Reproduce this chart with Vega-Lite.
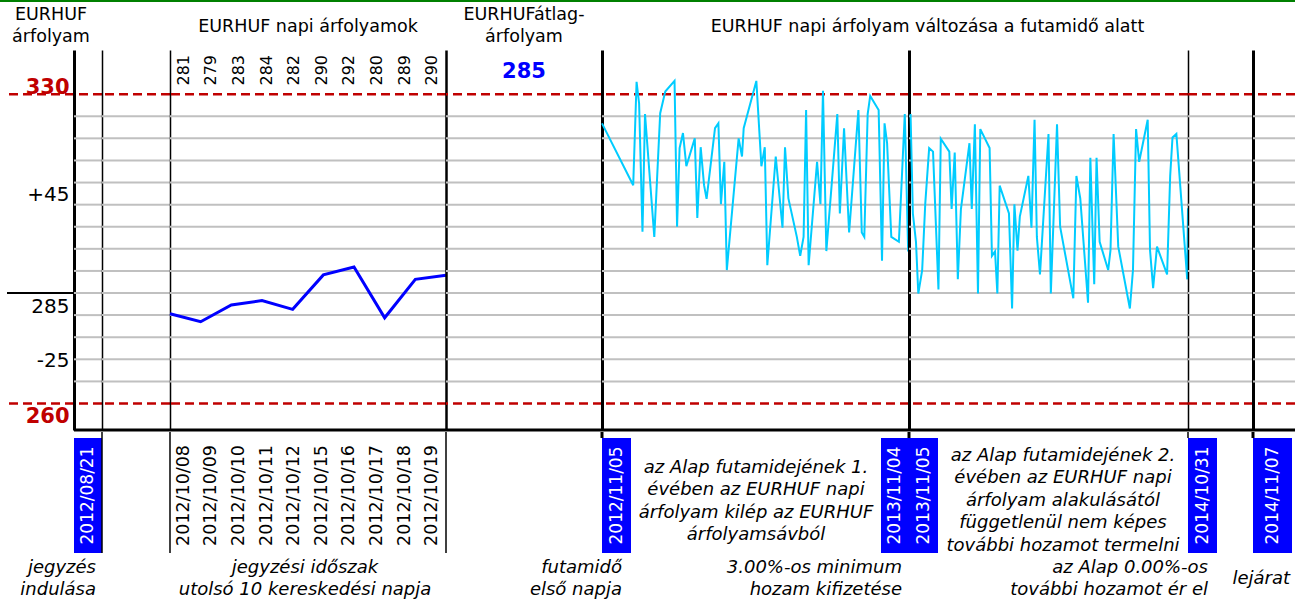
{
"$schema": "https://vega.github.io/schema/vega-lite/v6.json",
"padding": 0,
"spacing": 0,
"config": {
  "view": {"stroke": null},
  "font": "DejaVu Sans",
  "axisY": {"domain": false, "ticks": false, "labels": false, "grid": false, "domainColor": "black", "zindex": 1}
},
"datasets": {
  "grid": [{"v":265},{"v":270},{"v":275},{"v":280},{"v":285},{"v":290},{"v":295},{"v":300},{"v":305},{"v":310},{"v":315},{"v":320},{"v":325}],
  "limits": [{"v":330},{"v":260}],
  "daily": [
    {"date":"2012/10/08","arf":280.3,"felirat":"281"},
    {"date":"2012/10/09","arf":278.5,"felirat":"279"},
    {"date":"2012/10/10","arf":282.3,"felirat":"283"},
    {"date":"2012/10/11","arf":283.3,"felirat":"284"},
    {"date":"2012/10/12","arf":281.3,"felirat":"282"},
    {"date":"2012/10/15","arf":289.1,"felirat":"290"},
    {"date":"2012/10/16","arf":290.9,"felirat":"292"},
    {"date":"2012/10/17","arf":279.4,"felirat":"280"},
    {"date":"2012/10/18","arf":288.1,"felirat":"289"},
    {"date":"2012/10/19","arf":289.0,"felirat":"290"}
  ],
  "path1": [
    {"nap":0,"arf":323.4},{"nap":37,"arf":309.4},{"nap":41,"arf":332.8},{"nap":44,"arf":327.9},{"nap":48,"arf":298.9},
    {"nap":51,"arf":325.5},{"nap":62,"arf":297.7},{"nap":69,"arf":325.7},{"nap":75,"arf":330.6},{"nap":86,"arf":333.0},
    {"nap":89,"arf":300.0},{"nap":92,"arf":317.8},{"nap":96,"arf":321.2},{"nap":100,"arf":313.7},{"nap":110,"arf":320.0},
    {"nap":113,"arf":302.0},{"nap":117,"arf":318.0},{"nap":121,"arf":309.4},{"nap":124,"arf":306.3},{"nap":134,"arf":322.3},
    {"nap":138,"arf":323.4},{"nap":141,"arf":305.1},{"nap":145,"arf":314.7},{"nap":148,"arf":290.2},{"nap":162,"arf":320.0},
    {"nap":166,"arf":315.9},{"nap":168,"arf":322.3},{"nap":183,"arf":333.0},{"nap":189,"arf":313.7},{"nap":193,"arf":318.0},
    {"nap":196,"arf":291.3},{"nap":206,"arf":315.9},{"nap":214,"arf":299.8},{"nap":217,"arf":318.0},{"nap":221,"arf":306.4},
    {"nap":231,"arf":297.7},{"nap":235,"arf":293.4},{"nap":239,"arf":297.7},{"nap":242,"arf":326.4},{"nap":245,"arf":291.3},
    {"nap":255,"arf":314.7},{"nap":259,"arf":305.1},{"nap":262,"arf":330.8},{"nap":266,"arf":294.5},{"nap":279,"arf":325.5},
    {"nap":282,"arf":303.0},{"nap":287,"arf":322.3},{"nap":293,"arf":298.7},{"nap":304,"arf":326.4},{"nap":308,"arf":298.7},
    {"nap":311,"arf":297.7},{"nap":315,"arf":325.5},{"nap":318,"arf":329.6},{"nap":328,"arf":326.4},{"nap":332,"arf":292.3},
    {"nap":335,"arf":323.4},{"nap":338,"arf":319.0},{"nap":343,"arf":297.7},{"nap":352,"arf":296.6},{"nap":359,"arf":325.5},
    {"nap":363,"arf":294.4}
  ],
  "path2": [
    {"nap":367,"arf":325.5},{"nap":370,"arf":303.0},{"nap":374,"arf":296.6},{"nap":377,"arf":284.9},{"nap":382,"arf":290.2},
    {"nap":386,"arf":305.3},{"nap":391,"arf":317.8},{"nap":396,"arf":317.0},{"nap":403,"arf":285.8},{"nap":406,"arf":319.9},
    {"nap":417,"arf":317.0},{"nap":420,"arf":304.0},{"nap":424,"arf":316.8},{"nap":428,"arf":288.1},{"nap":432,"arf":304.0},
    {"nap":443,"arf":318.9},{"nap":446,"arf":304.0},{"nap":450,"arf":323.2},{"nap":454,"arf":284.9},{"nap":457,"arf":322.1},
    {"nap":469,"arf":317.8},{"nap":472,"arf":293.4},{"nap":476,"arf":294.4},{"nap":479,"arf":284.9},{"nap":482,"arf":309.3},
    {"nap":494,"arf":303.0},{"nap":498,"arf":281.5},{"nap":501,"arf":305.1},{"nap":505,"arf":294.6},{"nap":508,"arf":302.3},
    {"nap":519,"arf":311.5},{"nap":523,"arf":299.8},{"nap":527,"arf":324.2},{"nap":530,"arf":297.7},{"nap":534,"arf":289.2},
    {"nap":545,"arf":321.0},{"nap":548,"arf":284.9},{"nap":556,"arf":323.2},{"nap":560,"arf":300.0},{"nap":577,"arf":283.8},
    {"nap":581,"arf":311.5},{"nap":586,"arf":306.4},{"nap":596,"arf":282.8},{"nap":599,"arf":315.6},{"nap":604,"arf":287.0},
    {"nap":607,"arf":315.6},{"nap":611,"arf":296.6},{"nap":622,"arf":290.2},{"nap":625,"arf":294.7},{"nap":629,"arf":321.0},
    {"nap":635,"arf":295.5},{"nap":650,"arf":281.5},{"nap":654,"arf":290.2},{"nap":658,"arf":322.1},{"nap":662,"arf":314.7},
    {"nap":673,"arf":324.2},{"nap":676,"arf":294.7},{"nap":680,"arf":286.1},{"nap":685,"arf":295.5},{"nap":698,"arf":289.2},
    {"nap":702,"arf":311.5},{"nap":705,"arf":320.2},{"nap":710,"arf":321.0},{"nap":724,"arf":288.1},{"nap":725,"arf":304.2}
  ]
},
"vconcat": [
  {"width": 1295, "height": 2, "data": {"values": [{}]}, "mark": {"type": "rect", "color": "#008000"}, "encoding": {}},
  {"hconcat": [
    {"width": 102, "height": 48, "data": {"values": [{"t": "EURHUF\nárfolyam"}]}, "mark": {"type": "text", "lineBreak": "\n", "fontSize": 17.5, "lineHeight": 22, "dy": -11}, "encoding": {"text": {"field": "t"}}},
    {"width": 68, "height": 48, "data": {"values": []}, "mark": "text", "encoding": {}},
    {"width": 276, "height": 48, "data": {"values": [{"t": "EURHUF napi árfolyamok"}]}, "mark": {"type": "text", "fontSize": 17.5, "dy": 1}, "encoding": {"text": {"field": "t"}}},
    {"width": 156, "height": 48, "data": {"values": [{"t": "EURHUFátlag-\nárfolyam"}]}, "mark": {"type": "text", "lineBreak": "\n", "fontSize": 17.5, "lineHeight": 22, "dy": -11}, "encoding": {"text": {"field": "t"}}},
    {"width": 651, "height": 48, "data": {"values": [{"t": "EURHUF napi árfolyam változása a futamidő alatt"}]}, "mark": {"type": "text", "fontSize": 17.5, "dy": 1}, "encoding": {"text": {"field": "t"}}},
    {"width": 42, "height": 48, "data": {"values": []}, "mark": "text", "encoding": {}}
  ], "spacing": 0, "bounds": "flush"},
  {"hconcat": [
    {"width": 7, "height": 380, "data": {"values": []}, "mark": "text", "encoding": {}},
    {"width": 67, "height": 380, "layer": [
      {"data": {"name": "limits"}, "mark": {"type": "rule", "color": "#c00000", "strokeWidth": 2.5, "strokeDash": [9, 5]}, "encoding": {"y": {"field": "v", "type": "quantitative", "title": null, "scale": {"domain": [254, 340], "nice": false, "zero": false}, "axis": null}}},
      {"data": {"values": [{"v": 285}]}, "mark": {"type": "rule", "color": "black", "strokeWidth": 2}, "encoding": {"y": {"field": "v", "type": "quantitative", "title": null, "axis": null}}}
    ]},
    {"width": 28, "height": 380, "layer": [
      {"data": {"name": "grid"}, "mark": {"type": "rule", "color": "#c0c0c0", "strokeWidth": 2}, "encoding": {"y": {"field": "v", "type": "quantitative", "title": null, "scale": {"domain": [254, 340], "nice": false, "zero": false},
        "axis": {"domain": true, "domainWidth": 3, "labels": true, "values": [330, 307.3, 285, 269.8, 260],
          "labelExpr": "datum.value > 300 && datum.value < 320 ? '+45' : (datum.value > 262 && datum.value < 280 ? '-25' : datum.label)",
          "labelFontSize": {"condition": {"test": "datum.value == 330 || datum.value == 260", "value": 21}, "value": 20},
          "labelColor": {"condition": {"test": "datum.value == 330 || datum.value == 260", "value": "#c00000"}, "value": "black"},
          "labelFontWeight": {"condition": {"test": "datum.value == 330 || datum.value == 260", "value": "bold"}, "value": "normal"},
          "labelBaseline": {"condition": {"test": "datum.value == 330 || datum.value == 260 || datum.value == 285", "value": "alphabetic"}, "value": "middle"},
          "labelOffset": {"condition": [{"test": "datum.value == 330", "value": -1}, {"test": "datum.value == 285", "value": 19}, {"test": "datum.value == 260", "value": 19}], "value": 0},
          "labelPadding": 5, "labelOverlap": false, "labelBound": false, "labelFlush": false}}}},
      {"data": {"name": "limits"}, "mark": {"type": "rule", "color": "#c00000", "strokeWidth": 2.5, "strokeDash": [9, 5]}, "encoding": {"y": {"field": "v", "type": "quantitative", "title": null}}},
      {"data": {"values": [{}]}, "mark": {"type": "rule", "color": "black", "strokeWidth": 3}, "encoding": {"y": {"datum": 254, "type": "quantitative", "title": null}}}
    ]},
    {"width": 68, "height": 380, "layer": [
      {"data": {"name": "grid"}, "mark": {"type": "rule", "color": "#c0c0c0", "strokeWidth": 2}, "encoding": {"y": {"field": "v", "type": "quantitative", "title": null, "scale": {"domain": [254, 340], "nice": false, "zero": false}, "axis": {"domain": true, "domainWidth": 1.5}}}},
      {"data": {"name": "limits"}, "mark": {"type": "rule", "color": "#c00000", "strokeWidth": 2.5, "strokeDash": [9, 5]}, "encoding": {"y": {"field": "v", "type": "quantitative", "title": null}}},
      {"data": {"values": [{}]}, "mark": {"type": "rule", "color": "black", "strokeWidth": 3}, "encoding": {"y": {"datum": 254, "type": "quantitative", "title": null}}}
    ]},
    {"width": 276, "height": 380, "resolve": {"scale": {"x": "independent"}}, "layer": [
      {"data": {"name": "grid"}, "mark": {"type": "rule", "color": "#c0c0c0", "strokeWidth": 2}, "encoding": {"y": {"field": "v", "type": "quantitative", "title": null, "scale": {"domain": [254, 340], "nice": false, "zero": false}, "axis": {"domain": true, "domainWidth": 1.5}}}},
      {"data": {"name": "limits"}, "mark": {"type": "rule", "color": "#c00000", "strokeWidth": 2.5, "strokeDash": [9, 5]}, "encoding": {"y": {"field": "v", "type": "quantitative", "title": null}}},
      {"data": {"name": "daily"}, "mark": {"type": "line", "color": "#0000ff", "strokeWidth": 3}, "encoding": {"x": {"field": "date", "type": "ordinal", "scale": {"type": "point", "padding": 0}, "axis": null}, "y": {"field": "arf", "type": "quantitative", "title": null}}},
      {"data": {"name": "daily"}, "mark": {"type": "text", "angle": 270, "align": "right", "baseline": "middle", "dx": -5, "fontSize": 16, "color": "black"}, "encoding": {"x": {"field": "date", "type": "ordinal", "scale": {"type": "band", "paddingInner": 0, "paddingOuter": 0}, "axis": null}, "y": {"datum": 340, "type": "quantitative", "title": null}, "text": {"field": "felirat"}}},
      {"data": {"values": [{}]}, "mark": {"type": "rule", "color": "black", "strokeWidth": 3}, "encoding": {"y": {"datum": 254, "type": "quantitative", "title": null}}}
    ]},
    {"width": 156, "height": 380, "layer": [
      {"data": {"name": "grid"}, "mark": {"type": "rule", "color": "#c0c0c0", "strokeWidth": 2}, "encoding": {"y": {"field": "v", "type": "quantitative", "title": null, "scale": {"domain": [254, 340], "nice": false, "zero": false}, "axis": {"domain": true, "domainWidth": 2.5}}}},
      {"data": {"name": "limits"}, "mark": {"type": "rule", "color": "#c00000", "strokeWidth": 2.5, "strokeDash": [9, 5]}, "encoding": {"y": {"field": "v", "type": "quantitative", "title": null}}},
      {"data": {"values": [{"atlag": 285}]}, "mark": {"type": "text", "fontSize": 21, "fontWeight": "bold", "color": "#0000ff"}, "encoding": {"y": {"datum": 335, "type": "quantitative", "title": null}, "text": {"field": "atlag"}}},
      {"data": {"values": [{}]}, "mark": {"type": "rule", "color": "black", "strokeWidth": 3}, "encoding": {"y": {"datum": 254, "type": "quantitative", "title": null}}}
    ]},
    {"width": 307, "height": 380, "layer": [
      {"data": {"name": "grid"}, "mark": {"type": "rule", "color": "#c0c0c0", "strokeWidth": 2}, "encoding": {"y": {"field": "v", "type": "quantitative", "title": null, "scale": {"domain": [254, 340], "nice": false, "zero": false}, "axis": {"domain": true, "domainWidth": 3}}}},
      {"data": {"name": "limits"}, "mark": {"type": "rule", "color": "#c00000", "strokeWidth": 2.5, "strokeDash": [9, 5]}, "encoding": {"y": {"field": "v", "type": "quantitative", "title": null}}},
      {"data": {"name": "path1"}, "mark": {"type": "line", "color": "#00ccff", "strokeWidth": 2}, "encoding": {"x": {"field": "nap", "type": "quantitative", "scale": {"domain": [0, 364], "nice": false, "zero": false}, "axis": null}, "y": {"field": "arf", "type": "quantitative", "title": null}}},
      {"data": {"values": [{}]}, "mark": {"type": "rule", "color": "black", "strokeWidth": 3}, "encoding": {"y": {"datum": 254, "type": "quantitative", "title": null}}}
    ]},
    {"width": 279, "height": 380, "layer": [
      {"data": {"name": "grid"}, "mark": {"type": "rule", "color": "#c0c0c0", "strokeWidth": 2}, "encoding": {"y": {"field": "v", "type": "quantitative", "title": null, "scale": {"domain": [254, 340], "nice": false, "zero": false}, "axis": {"domain": true, "domainWidth": 3}}}},
      {"data": {"name": "limits"}, "mark": {"type": "rule", "color": "#c00000", "strokeWidth": 2.5, "strokeDash": [9, 5]}, "encoding": {"y": {"field": "v", "type": "quantitative", "title": null}}},
      {"data": {"name": "path2"}, "mark": {"type": "line", "color": "#00ccff", "strokeWidth": 2}, "encoding": {"x": {"field": "nap", "type": "quantitative", "scale": {"domain": [365, 725], "nice": false, "zero": false}, "axis": null}, "y": {"field": "arf", "type": "quantitative", "title": null}}},
      {"data": {"values": [{}]}, "mark": {"type": "rule", "color": "black", "strokeWidth": 3}, "encoding": {"y": {"datum": 254, "type": "quantitative", "title": null}}}
    ]},
    {"width": 65, "height": 380, "layer": [
      {"data": {"name": "grid"}, "mark": {"type": "rule", "color": "#c0c0c0", "strokeWidth": 2}, "encoding": {"y": {"field": "v", "type": "quantitative", "title": null, "scale": {"domain": [254, 340], "nice": false, "zero": false}, "axis": {"domain": true, "domainWidth": 1.5}}}},
      {"data": {"name": "limits"}, "mark": {"type": "rule", "color": "#c00000", "strokeWidth": 2.5, "strokeDash": [9, 5]}, "encoding": {"y": {"field": "v", "type": "quantitative", "title": null}}},
      {"data": {"values": [{}]}, "mark": {"type": "rule", "color": "black", "strokeWidth": 3}, "encoding": {"y": {"datum": 254, "type": "quantitative", "title": null}}}
    ]},
    {"width": 42, "height": 380, "layer": [
      {"data": {"name": "grid"}, "mark": {"type": "rule", "color": "#c0c0c0", "strokeWidth": 2}, "encoding": {"y": {"field": "v", "type": "quantitative", "title": null, "scale": {"domain": [254, 340], "nice": false, "zero": false}, "axis": {"domain": true, "domainWidth": 3}}}},
      {"data": {"name": "limits"}, "mark": {"type": "rule", "color": "#c00000", "strokeWidth": 2.5, "strokeDash": [9, 5]}, "encoding": {"y": {"field": "v", "type": "quantitative", "title": null}}},
      {"data": {"values": [{}]}, "mark": {"type": "rule", "color": "black", "strokeWidth": 3}, "encoding": {"y": {"datum": 254, "type": "quantitative", "title": null}}}
    ]}
  ], "spacing": 0, "bounds": "flush"},
  {"hconcat": [
    {"width": 102, "height": 6, "data": {"values": []}, "mark": "text", "encoding": {}},
    {"width": 68, "height": 6, "data": {"values": [{}]}, "layer": [
      {"mark": {"type": "tick", "color": "black", "thickness": 1.5, "size": 6, "opacity": 1}, "encoding": {"x": {"datum": 0, "type": "quantitative", "scale": {"domain": [0, 1]}, "axis": null}}},
      {"mark": {"type": "tick", "color": "black", "thickness": 1.5, "size": 6, "opacity": 1}, "encoding": {"x": {"datum": 1, "type": "quantitative", "axis": null}}}
    ]},
    {"width": 276, "height": 6, "data": {"values": [{}]}, "mark": {"type": "tick", "color": "black", "thickness": 1.5, "size": 6, "opacity": 1}, "encoding": {"x": {"datum": 1, "type": "quantitative", "scale": {"domain": [0, 1]}, "axis": null}}},
    {"width": 156, "height": 6, "data": {"values": [{}]}, "mark": {"type": "tick", "color": "black", "thickness": 3, "size": 6, "opacity": 1}, "encoding": {"x": {"datum": 1, "type": "quantitative", "scale": {"domain": [0, 1]}, "axis": null}}},
    {"width": 307, "height": 6, "data": {"values": [{}]}, "mark": {"type": "tick", "color": "black", "thickness": 3, "size": 6, "opacity": 1}, "encoding": {"x": {"datum": 1, "type": "quantitative", "scale": {"domain": [0, 1]}, "axis": null}}},
    {"width": 279, "height": 6, "data": {"values": [{}]}, "mark": {"type": "tick", "color": "black", "thickness": 1.5, "size": 6, "opacity": 1}, "encoding": {"x": {"datum": 1, "type": "quantitative", "scale": {"domain": [0, 1]}, "axis": null}}},
    {"width": 65, "height": 6, "data": {"values": [{}]}, "mark": {"type": "tick", "color": "black", "thickness": 3, "size": 6, "opacity": 1}, "encoding": {"x": {"datum": 1, "type": "quantitative", "scale": {"domain": [0, 1]}, "axis": null}}},
    {"width": 42, "height": 6, "data": {"values": []}, "mark": "text", "encoding": {}}
  ], "spacing": 0, "bounds": "flush"},
  {"hconcat": [
    {"width": 74, "height": 115, "data": {"values": []}, "mark": "text", "encoding": {}},
    {"width": 28, "height": 115, "data": {"values": [{"d": "2012/08/21"}]}, "layer": [
      {"mark": {"type": "rect", "color": "#0000ff"}, "encoding": {}},
      {"mark": {"type": "text", "angle": 270, "color": "white", "fontSize": 17}, "encoding": {"text": {"field": "d"}}}
    ]},
    {"width": 68, "height": 115, "data": {"values": [{}]}, "layer": [
      {"mark": {"type": "tick", "color": "black", "thickness": 1.5, "size": 115, "opacity": 1}, "encoding": {"x": {"datum": 0, "type": "quantitative", "scale": {"domain": [0, 1]}, "axis": null}}},
      {"mark": {"type": "tick", "color": "black", "thickness": 1.5, "size": 115, "opacity": 1}, "encoding": {"x": {"datum": 1, "type": "quantitative", "axis": null}}}
    ]},
    {"width": 276, "height": 115, "data": {"name": "daily"}, "mark": {"type": "text", "angle": 270, "fontSize": 17.5, "color": "black"}, "encoding": {"x": {"field": "date", "type": "ordinal", "scale": {"type": "band", "paddingInner": 0, "paddingOuter": 0}, "axis": null}, "text": {"field": "date"}}},
    {"width": 156, "height": 115, "data": {"values": [{}]}, "mark": {"type": "tick", "color": "black", "thickness": 1.5, "size": 115, "opacity": 1}, "encoding": {"x": {"datum": 0, "type": "quantitative", "scale": {"domain": [0, 1]}, "axis": null}}},
    {"width": 29, "height": 115, "data": {"values": [{"d": "2012/11/05"}]}, "layer": [
      {"mark": {"type": "rect", "color": "#0000ff"}, "encoding": {}},
      {"mark": {"type": "text", "angle": 270, "color": "white", "fontSize": 17}, "encoding": {"text": {"field": "d"}}}
    ]},
    {"width": 250, "height": 115, "data": {"values": [{"t": "az Alap futamidejének 1.\névében az EURHUF napi\nárfolyam kilép az EURHUF\nárfolyamsávból"}]}, "mark": {"type": "text", "lineBreak": "\n", "fontSize": 18, "fontStyle": "italic", "lineHeight": 22.5, "dy": -28}, "encoding": {"text": {"field": "t"}}},
    {"width": 57, "height": 115, "data": {"values": [{"d": "2013/11/04"}, {"d": "2013/11/05"}]}, "layer": [
      {"mark": {"type": "rect", "color": "#0000ff"}, "encoding": {}},
      {"mark": {"type": "text", "angle": 270, "color": "white", "fontSize": 17}, "encoding": {"x": {"field": "d", "type": "ordinal", "scale": {"type": "band", "paddingInner": 0, "paddingOuter": 0}, "axis": null}, "text": {"field": "d"}}}
    ]},
    {"width": 250, "height": 115, "data": {"values": [{"t": "az Alap futamidejének 2.\névében az EURHUF napi\nárfolyam alakulásától\nfüggetlenül nem képes\ntovábbi hozamot termelni"}]}, "mark": {"type": "text", "lineBreak": "\n", "fontSize": 18, "fontStyle": "italic", "lineHeight": 22.5, "dy": -40}, "encoding": {"text": {"field": "t"}}},
    {"width": 29, "height": 115, "data": {"values": [{"d": "2014/10/31"}]}, "layer": [
      {"mark": {"type": "rect", "color": "#0000ff"}, "encoding": {}},
      {"mark": {"type": "text", "angle": 270, "color": "white", "fontSize": 17}, "encoding": {"text": {"field": "d"}}}
    ]},
    {"width": 36, "height": 115, "data": {"values": []}, "mark": "text", "encoding": {}},
    {"width": 39, "height": 115, "data": {"values": [{"d": "2014/11/07"}]}, "layer": [
      {"mark": {"type": "rect", "color": "#0000ff"}, "encoding": {}},
      {"mark": {"type": "text", "angle": 270, "color": "white", "fontSize": 17}, "encoding": {"text": {"field": "d"}}}
    ]}
  ], "spacing": 0, "bounds": "flush"},
  {"hconcat": [
    {"width": 96, "height": 47, "data": {"values": [{"t": "jegyzés\nindulása"}]}, "mark": {"type": "text", "lineBreak": "\n", "fontSize": 18, "fontStyle": "italic", "lineHeight": 22, "align": "right", "dy": -11}, "encoding": {"x": {"value": "width"}, "text": {"field": "t"}}},
    {"width": 68, "height": 47, "data": {"values": []}, "mark": "text", "encoding": {}},
    {"width": 282, "height": 47, "data": {"values": [{"t": "jegyzési időszak\nutolsó 10 kereskedési napja"}]}, "mark": {"type": "text", "lineBreak": "\n", "fontSize": 18, "fontStyle": "italic", "lineHeight": 22, "dy": -11}, "encoding": {"text": {"field": "t"}}},
    {"width": 176, "height": 47, "data": {"values": [{"t": "futamidő\nelső napja"}]}, "mark": {"type": "text", "lineBreak": "\n", "fontSize": 18, "fontStyle": "italic", "lineHeight": 22, "align": "right", "dy": -11}, "encoding": {"x": {"value": "width"}, "text": {"field": "t"}}},
    {"width": 280, "height": 47, "data": {"values": [{"t": "3.00%-os minimum\nhozam kifizetése"}]}, "mark": {"type": "text", "lineBreak": "\n", "fontSize": 18, "fontStyle": "italic", "lineHeight": 22, "align": "right", "dy": -11}, "encoding": {"x": {"value": "width"}, "text": {"field": "t"}}},
    {"width": 306, "height": 47, "data": {"values": [{"t": "az Alap 0.00%-os\ntovábbi hozamot ér el"}]}, "mark": {"type": "text", "lineBreak": "\n", "fontSize": 18, "fontStyle": "italic", "lineHeight": 22, "align": "right", "dy": -11}, "encoding": {"x": {"value": "width"}, "text": {"field": "t"}}},
    {"width": 82, "height": 47, "data": {"values": [{"t": "lejárat"}]}, "mark": {"type": "text", "fontSize": 18, "fontStyle": "italic", "align": "right"}, "encoding": {"x": {"value": "width"}, "text": {"field": "t"}}}
  ], "spacing": 0, "bounds": "flush"}
]
}
